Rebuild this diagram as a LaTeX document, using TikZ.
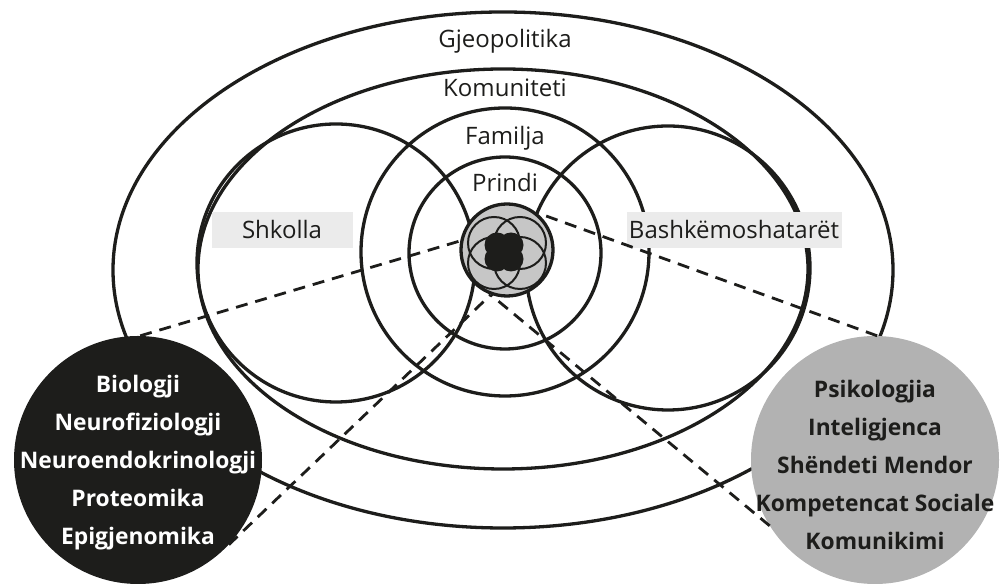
\documentclass[tikz,border=0pt]{standalone}
\usepackage{fontspec}
\setsansfont{Open Sans}
\usetikzlibrary{positioning}
\definecolor{RingInk}{HTML}{1D1D1B}
\definecolor{RingGrey}{HTML}{B2B2B2}
\definecolor{CoreGrey}{HTML}{C6C6C6}
\definecolor{TagPaper}{HTML}{EBEBEB}
\tikzset{
  every node/.style={font=\sffamily, text=RingInk},
  ring/.style={draw=RingInk, line width=3.3pt},
  petal/.style={draw=RingInk, line width=2pt},
  ringlabel/.style={font=\sffamily\fontsize{24}{24}\selectfont, anchor=base},
  tag/.style={fill=TagPaper, minimum height=36pt, inner sep=0pt, font=\sffamily\fontsize{24}{24}\selectfont},
  core/.style={circle, draw=RingInk, fill=CoreGrey, line width=3.3pt, minimum size=92pt, inner sep=0pt},
  fielddisc/.style={circle, minimum size=248pt, inner sep=0pt},
  fieldtext/.style={align=center, font=\sffamily\bfseries\fontsize{22.8}{38}\selectfont},
  lens/.style={draw=RingInk, line width=2.8pt, dash pattern=on 12pt off 8pt},
}
\begin{document}
\begin{tikzpicture}[x=1pt,y=1pt]
  \useasboundingbox (0,0) rectangle (1002,585);
  % rings: Gjeopolitika, Komuniteti, Familja, Prindi
  \draw[ring] (503,315) ellipse [x radius=390, y radius=258];
  \draw[ring] (503,316) ellipse [x radius=305, y radius=200];
  \draw[ring] (505,333) circle [radius=144];
  \draw[ring] (505,332) circle [radius=96];
  % side circles: Shkolla (left), Bashkemoshataret (right)
  \draw[ring] (336,322) circle [radius=139];
  \draw[ring] (668,317) circle [radius=142];
  \node[ringlabel] (geo) at (505,537) {Gjeopolitika};
  \node[ringlabel] (com) at (505,488) {Komuniteti};
  \node[ringlabel] (fam) at (505,440) {Familja};
  \node[ringlabel] (par) at (505,393) {Prindi};
  % core: grey disc, four loops, dark blob
  \node[core] (core) at (507,335) {};
  \foreach \dx/\dy in {-13/10, 13/10, -13/-10, 13/-10}
    \draw[petal] (507+\dx,332+\dy) circle [radius=26];
  \foreach \dx/\dy in {-7/7, 7/7, -7/-7, 7/-7}
    \fill[RingInk] (504+\dx,333+\dy) circle [radius=12.5];
  \fill[RingInk] (504,333) circle [radius=14];
  % tags on the side circles
  \node[tag, minimum width=141pt] (school) at (282,355) {Shkolla};
  \node[tag, minimum width=215pt] (peers) at (734,355) {Bashkëmoshatarët};
  % the two fields
  \node[fielddisc, fill=RingInk] (bio) at (138,125) {};
  \node[fieldtext, text=white] (biotext) at (138,122)
    {Biologji\\Neurofiziologji\\Neuroendokrinologji\\Proteomika\\Epigjenomika};
  \node[fielddisc, fill=RingGrey] (psy) at (875,125) {};
  \node[fieldtext] (psytext) at (875,120)
    {Psikologjia\\Inteligjenca\\Shëndeti Mendor\\Kompetencat Sociale\\Komunikimi};
  % dashed cones into the core
  \draw[lens] (bio.89) -- (core.169);
  \draw[lens] (bio.-43) -- (core.250);
  \draw[lens] (psy.89) -- (core.52);
  \draw[lens] (psy.212) -- (core.250);
\end{tikzpicture}
\end{document}
